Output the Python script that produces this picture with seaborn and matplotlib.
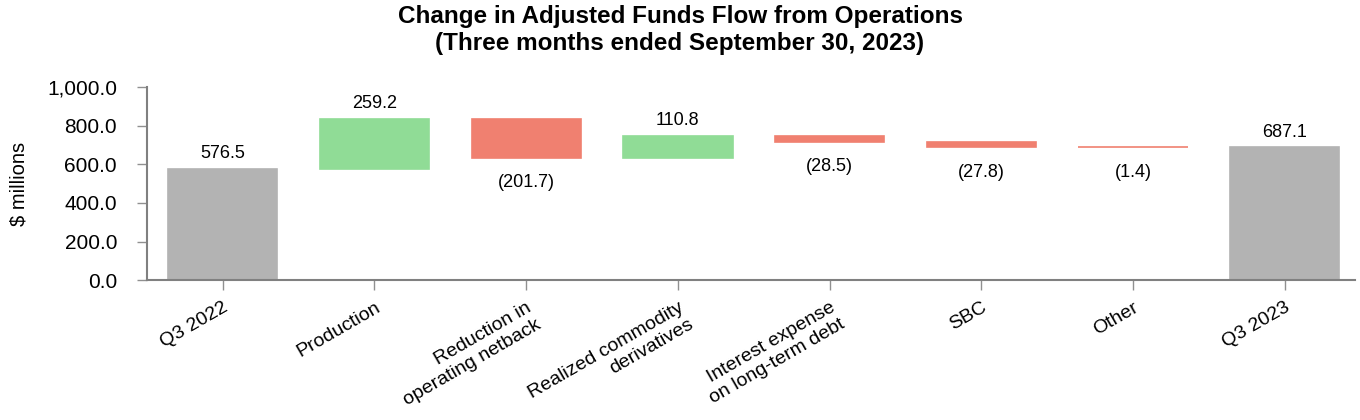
import numpy as np
import pandas as pd
import matplotlib
matplotlib.use("Agg")
import matplotlib.pyplot as plt
from matplotlib.ticker import StrMethodFormatter
import seaborn as sns

# waterfall data ($ millions)
categories = ["Q3 2022", "Production", "Reduction in\noperating netback",
              "Realized commodity\nderivatives", "Interest expense\non long-term debt",
              "SBC", "Other", "Q3 2023"]
changes = [576.5, 259.2, -201.7, 110.8, -28.5, -27.8, -1.4, 687.1]
kinds = ["total", "up", "down", "up", "down", "down", "down", "total"]

palette = {"total": "#b3b3b3", "up": "#90dc96", "down": "#f08070"}

# bar bottoms / heights for the floating bars
bottoms, heights = [], []
running = 0.0
for v, k in zip(changes, kinds):
    if k == "total":
        bottoms.append(0.0)
        heights.append(v)
        running = v
    else:
        bottoms.append(min(running, running + v))
        heights.append(abs(v))
        running += v

df = pd.DataFrame({"category": categories, "height": heights})

sns.set_style("white")
plt.rcParams["font.family"] = ["Liberation Sans", "DejaVu Sans"]
plt.rcParams["text.color"] = "black"
plt.rcParams["axes.labelcolor"] = "black"

fig, ax = plt.subplots(figsize=(13.6, 4.2), dpi=100)
fig.subplots_adjust(left=0.108, right=0.996, bottom=0.333, top=0.793)

sns.barplot(data=df, x="category", y="height", color="#b3b3b3",
            width=0.72, errorbar=None, ax=ax)

for p, b, k in zip(ax.patches, bottoms, kinds):
    p.set_y(b)
    p.set_facecolor(palette[k])
    p.set_edgecolor(palette[k])
    p.set_linewidth(1.2)

# value labels
for i, (v, k, b, h) in enumerate(zip(changes, kinds, bottoms, heights)):
    if v >= 0:
        ax.annotate(f"{v:,.1f}", (i, b + h), xytext=(0, 11), textcoords="offset points",
                    ha="center", va="center", fontsize=13, color="black")
    else:
        ax.annotate(f"({abs(v):,.1f})", (i, b), xytext=(0, -18), textcoords="offset points",
                    ha="center", va="center", fontsize=13, color="black")

ax.set_xlim(-0.5, 7.46)
ax.set_ylim(0, 1000)
ax.yaxis.set_major_formatter(StrMethodFormatter("{x:,.1f}"))
ax.set_yticks(np.arange(0, 1001, 200))
ax.set_xlabel("")
ax.set_ylabel("$ millions", fontsize=14.5, color="black")
ax.yaxis.set_label_coords(-0.098, 0.5)

for side in ["top", "right"]:
    ax.spines[side].set_visible(False)
for side in ["left", "bottom"]:
    ax.spines[side].set_color("#808080")
    ax.spines[side].set_linewidth(1.5)

ax.tick_params(axis="both", which="major", direction="out", length=7.5, width=1,
               color="#909090", labelcolor="black", left=True, bottom=True)
ax.tick_params(axis="y", labelsize=15, pad=14)
ax.tick_params(axis="x", labelsize=14, pad=6)
plt.setp(ax.get_xticklabels(), rotation=30, ha="right", rotation_mode="anchor",
         va="top", multialignment="right")

fig.suptitle("Change in Adjusted Funds Flow from Operations\n(Three months ended September 30, 2023)",
             fontsize=17.5, fontweight="bold", y=0.988, va="top", x=0.5, color="black")

fig.savefig("out.png", dpi=100)
